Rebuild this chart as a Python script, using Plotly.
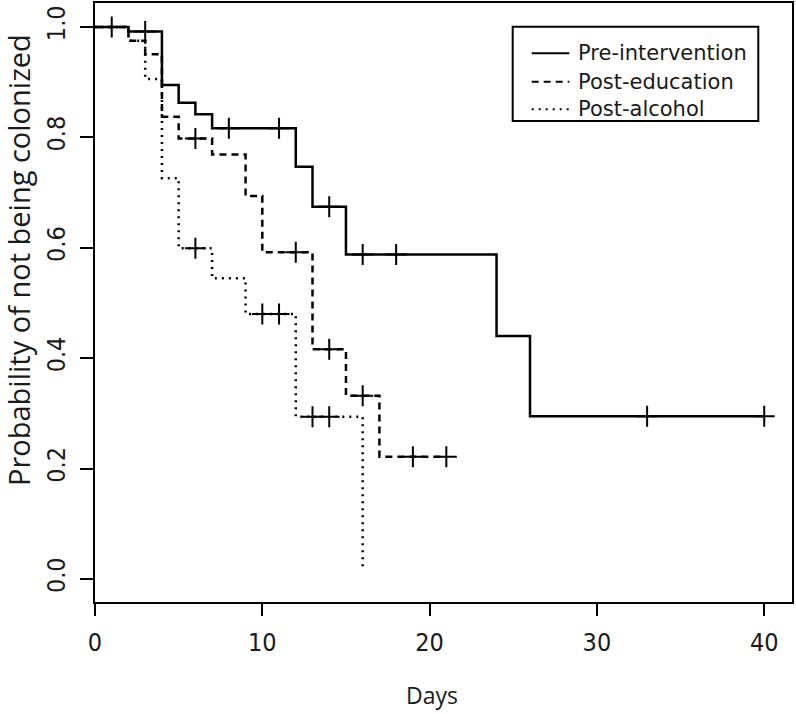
import numpy as np
import plotly.graph_objects as go

# ---- data ----
pre_times = [0, 2, 4, 5, 6, 7, 12, 13, 15, 24, 26, 40]
pre_surv = [1.0, 0.992, 0.895, 0.863, 0.842, 0.8165, 0.747, 0.6745, 0.588, 0.440, 0.295, 0.295]
pre_censor = [1, 3, 8, 11, 14, 16, 18, 33, 40]

edu_times = [0, 2, 3, 4, 5, 7, 9, 10, 13, 15, 17, 21]
edu_surv = [1.0, 0.975, 0.9505, 0.8375, 0.798, 0.769, 0.694, 0.592, 0.416, 0.332, 0.2216, 0.2216]
edu_censor = [6, 12, 14, 16, 19, 21]

alc_times = [0, 2, 3, 4, 5, 7, 9, 12, 16]
alc_surv = [1.0, 0.975, 0.906, 0.726, 0.599, 0.545, 0.480, 0.294, 0.017]
alc_censor = [6, 10, 11, 13, 14]

series_names = ["Pre-intervention", "Post-education", "Post-alcohol"]
x_ticks = [0, 10, 20, 30, 40]
y_ticks = [0.0, 0.2, 0.4, 0.6, 0.8, 1.0]
x_title = "Days"
y_title = "Probability of not being colonized"


def step_value(times, surv, t):
    idx = np.searchsorted(np.asarray(times), t, side="right") - 1
    return float(np.asarray(surv)[idx])


TICK_FONT = dict(family="Liberation Sans Narrow, Arial Narrow, DejaVu Sans Condensed, sans-serif",
                 size=25, color="#1a1a1a")
TEXT_FONT = "Open Sans, Noto Sans, sans-serif"

W, H = 796, 714
ML, MR, MT, MB = 95, 4, 3, 112
PW, PH = W - ML - MR, H - MT - MB


def px(x):
    return (x - ML) / PW


def py(y):
    return 1 - (y - MT) / PH


fig = go.Figure()
styles = ["solid", "7px,5px", "2px,5px"]
data = [(pre_times, pre_surv, pre_censor), (edu_times, edu_surv, edu_censor),
        (alc_times, alc_surv, alc_censor)]

for name, (tt, ss, cc), dash in zip(series_names, data, styles):
    fig.add_trace(go.Scatter(x=tt, y=ss, mode="lines", name=name, showlegend=False,
                             line=dict(color="black", width=2.5, dash=dash, shape="hv")))
for name, (tt, ss, cc) in zip(series_names, data):
    fig.add_trace(go.Scatter(x=cc, y=[step_value(tt, ss, c) for c in cc], mode="markers",
                             name=name + " (censored)", showlegend=False, hoverinfo="skip",
                             marker=dict(symbol="cross-thin", size=15,
                                         line=dict(color="black", width=2))))

# legend box drawn like R's legend()
shapes = [dict(type="rect", xref="paper", yref="paper", x0=px(512.7), x1=px(758.3),
               y0=py(121), y1=py(26.7), line=dict(color="black", width=2),
               fillcolor="white", layer="above")]
annotations = []
row_y = [53.3, 81.7, 109.3]
for name, dash, ry in zip(series_names, styles, row_y):
    shapes.append(dict(type="line", xref="paper", yref="paper", x0=px(531.7), x1=px(569.3),
                       y0=py(ry), y1=py(ry), line=dict(color="black", width=2, dash=dash),
                       layer="above"))
    annotations.append(dict(text=name, xref="paper", yref="paper", showarrow=False,
                            x=px(576), y=py(ry), xanchor="left", yanchor="middle",
                            font=dict(family="DejaVu Sans, sans-serif", size=21,
                                      color="#1a1a1a")))

annotations += [
    dict(text=x_title, xref="paper", yref="paper", showarrow=False,
         x=px(432), y=py(695), xanchor="center", yanchor="middle",
         font=dict(family=TEXT_FONT, size=23, color="#1a1a1a")),
    dict(text=y_title, xref="paper", yref="paper", showarrow=False, textangle=-90,
         x=px(18), y=py(260), xanchor="center", yanchor="middle",
         font=dict(family=TEXT_FONT, size=29, color="#1a1a1a")),
]

fig.update_layout(
    width=W, height=H,
    margin=dict(l=ML, r=MR, t=MT, b=MB, autoexpand=False),
    paper_bgcolor="white", plot_bgcolor="white",
    showlegend=False,
    shapes=shapes,
    annotations=annotations,
)
fig.update_xaxes(range=[0, 41.66], tickvals=x_ticks, ticks="outside", ticklen=12, tickwidth=2,
                 tickcolor="black", showline=True, linecolor="black", linewidth=2, mirror=True,
                 showgrid=False, zeroline=False, tickfont=TICK_FONT, ticklabelstandoff=5,
                 automargin=False)
fig.update_yaxes(range=[-0.0417, 1.0435], tickvals=y_ticks, tickformat=".1f", ticks="outside",
                 ticklen=13, tickwidth=2, tickcolor="black", showline=True, linecolor="black",
                 linewidth=2, mirror=True, showgrid=False, zeroline=False, tickangle=-90,
                 tickfont=TICK_FONT, ticklabelstandoff=5, automargin=False)

fig.write_html("out.html", config={"displayModeBar": False},
               post_script="document.body.style.margin='0px';")
